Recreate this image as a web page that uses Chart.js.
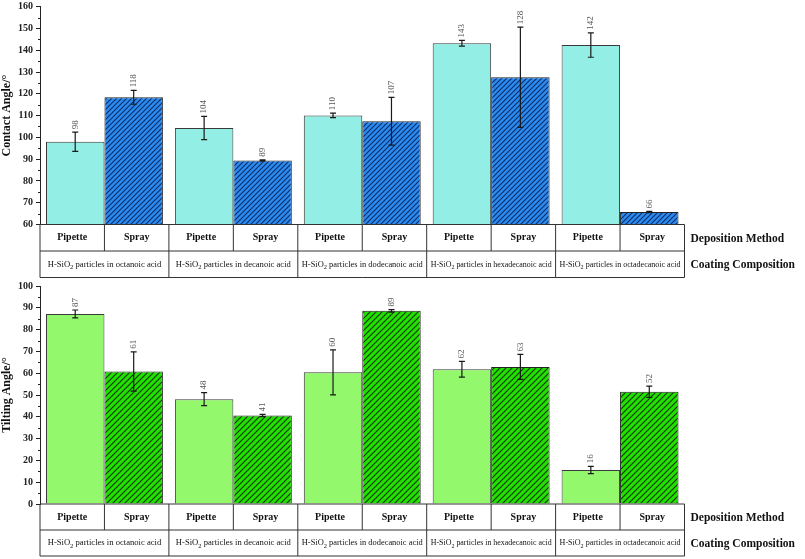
<!DOCTYPE html>
<html>
<head>
<meta charset="utf-8">
<script src="https://cdn.jsdelivr.net/npm/chart.js@4"></script>
<style>
  body { margin: 0; background: #fff; }
  .box { position: absolute; left: 0; width: 805px; }
  #top { top: 0; height: 280px; }
  #bottom { top: 280px; height: 279px; }
</style>
</head>
<body>
<div class="box" id="top"><canvas id="contact"></canvas></div>
<div class="box" id="bottom"><canvas id="tilt"></canvas></div>
<script>
const groups = [
  'H-SiO₂ particles in octanoic acid',
  'H-SiO₂ particles in decanoic acid',
  'H-SiO₂ particles in dodecanoic acid',
  'H-SiO₂ particles in hexadecanoic acid',
  'H-SiO₂ particles in octadecanoic acid'
];
const methods = ['Pipette', 'Spray'];
const rowTitles = ['Deposition Method', 'Coating Composition'];

const contactPipette = [98.0, 104.3, 110.1, 143.2, 142.4];
const contactPipetteErr = [4.4, 5.3, 1.0, 1.3, 5.6];
const contactSpray = [118.4, 89.4, 107.4, 127.6, 65.7];
const contactSprayErr = [3.2, 0.3, 11.0, 23.0, 0.3];
const contactTicks = [60, 160, 10];

const tiltPipette = [87.2, 48.1, 60.4, 61.8, 15.6];
const tiltPipetteErr = [1.8, 3.0, 10.3, 3.6, 1.7];
const tiltSpray = [60.8, 40.6, 88.6, 62.9, 51.5];
const tiltSprayErr = [9.0, 0.5, 0.6, 5.7, 2.6];
const tiltTicks = [0, 100, 10];

const serif = "'Liberation Serif', 'Times New Roman', serif";

function hatch(bg, line, gap) {
  const c = document.createElement('canvas');
  c.width = c.height = gap;
  const g = c.getContext('2d');
  g.fillStyle = bg;
  g.fillRect(0, 0, gap, gap);
  g.strokeStyle = line;
  g.lineWidth = 1.1;
  g.beginPath();
  g.moveTo(-1, gap + 1); g.lineTo(gap + 1, -1);
  g.moveTo(-1, 1); g.lineTo(1, -1);
  g.moveTo(gap - 1, gap + 1); g.lineTo(gap + 1, gap - 1);
  g.stroke();
  return g.createPattern(c, 'repeat');
}

// draws text with "₂" as a lowered digit, centred on x, squeezed to maxW if needed
function drawSubText(ctx, text, x, y, size, maxW) {
  const parts = text.split('₂');
  const big = size + 'px ' + serif, small = (size - 2) + 'px ' + serif;
  ctx.font = big;
  const w0 = ctx.measureText(parts[0]).width;
  const w2 = parts.length > 1 ? ctx.measureText(parts[1]).width : 0;
  ctx.font = small;
  const w1 = parts.length > 1 ? ctx.measureText('2').width : 0;
  const total = w0 + w1 + w2;
  const k = Math.min(1, maxW / total);
  ctx.save();
  ctx.translate(x, y);
  ctx.scale(k, 1);
  let cx = -total / 2;
  ctx.textAlign = 'left';
  ctx.font = big;
  ctx.fillText(parts[0], cx, 0);
  if (parts.length > 1) {
    cx += w0;
    ctx.font = small;
    ctx.fillText('2', cx, 3);
    cx += w1;
    ctx.font = big;
    ctx.fillText(parts[1], cx, 0);
  }
  ctx.restore();
}

const errorBars = {
  id: 'errorBars',
  afterDatasetsDraw(chart) {
    const ctx = chart.ctx, ys = chart.scales.y;
    ctx.save();
    chart.data.datasets.forEach((ds, di) => {
      chart.getDatasetMeta(di).data.forEach((bar, i) => {
        const v = ds.data[i], e = ds.errors[i];
        const hi = ys.getPixelForValue(v + e), lo = ys.getPixelForValue(v - e);
        ctx.strokeStyle = '#1a1a1a';
        ctx.lineWidth = 1.2;
        ctx.beginPath();
        ctx.moveTo(bar.x, hi); ctx.lineTo(bar.x, lo);
        ctx.moveTo(bar.x - 3, hi); ctx.lineTo(bar.x + 3, hi);
        ctx.moveTo(bar.x - 3, lo); ctx.lineTo(bar.x + 3, lo);
        ctx.stroke();
        ctx.save();
        ctx.translate(bar.x, hi - 3);
        ctx.rotate(-Math.PI / 2);
        ctx.fillStyle = '#555';
        ctx.font = '9px ' + serif;
        ctx.textAlign = 'left';
        ctx.textBaseline = 'middle';
        ctx.fillText(String(Math.round(v)), 0, 0);
        ctx.restore();
      });
    });
    ctx.restore();
  }
};

const table = {
  id: 'table',
  afterDraw(chart, args, opts) {
    const ctx = chart.ctx, ca = chart.chartArea, xs = chart.scales.x, ys = chart.scales.y;
    const n = groups.length, h = opts.rowHeight;
    const top = ca.bottom, mid = top + h, bot = top + 2 * h;
    ctx.save();
    // minor ticks
    ctx.strokeStyle = '#222';
    ctx.lineWidth = 1;
    ctx.beginPath();
    for (let v = ys.min + ys.options.ticks.stepSize / 2; v < ys.max; v += ys.options.ticks.stepSize) {
      const y = Math.round(ys.getPixelForValue(v)) + 0.5;
      ctx.moveTo(ca.left - 2, y); ctx.lineTo(ca.left, y);
    }
    ctx.stroke();
    // grid of the table
    ctx.strokeStyle = '#333';
    ctx.beginPath();
    [top, mid, bot].forEach(y => { ctx.moveTo(ca.left, y); ctx.lineTo(ca.right, y); });
    for (let i = 0; i <= n; i++) {
      const x = xs.getPixelForValue(i - 0.5);
      ctx.moveTo(x, top); ctx.lineTo(x, bot);
    }
    for (let i = 0; i < n; i++) {
      const x = xs.getPixelForValue(i);
      ctx.moveTo(x, top); ctx.lineTo(x, mid);
    }
    ctx.stroke();
    // cell texts
    ctx.fillStyle = '#111';
    ctx.textBaseline = 'middle';
    for (let i = 0; i < n; i++) {
      const l = xs.getPixelForValue(i - 0.5), c = xs.getPixelForValue(i), r = xs.getPixelForValue(i + 0.5);
      ctx.font = 'bold 10px ' + serif;
      ctx.textAlign = 'center';
      ctx.fillText(methods[0], (l + c) / 2, top + h / 2);
      ctx.fillText(methods[1], (c + r) / 2, top + h / 2);
      drawSubText(ctx, groups[i], c, mid + h / 2, 8.6, r - l - 8);
    }
    ctx.font = 'bold 11.5px ' + serif;
    ctx.textAlign = 'left';
    ctx.fillText(rowTitles[0], ca.right + 6, top + h / 2 + 1);
    ctx.fillText(rowTitles[1], ca.right + 6, mid + h / 2 + 1);
    ctx.restore();
  }
};

function makeChart(id, title, pipe, pipeErr, spray, sprayErr, ticks, colors, pad, rowHeight) {
  return new Chart(document.getElementById(id), {
    type: 'bar',
    data: {
      labels: groups,
      datasets: [
        { label: methods[0], data: pipe, errors: pipeErr, backgroundColor: colors[0],
          borderColor: '#3a3a3a', borderWidth: 1 },
        { label: methods[1], data: spray, errors: sprayErr, backgroundColor: colors[1],
          borderColor: '#222', borderWidth: 1 }
      ]
    },
    options: {
      responsive: true,
      maintainAspectRatio: false,
      animation: false,
      layout: { padding: pad },
      datasets: { bar: { categoryPercentage: 0.907, barPercentage: 1 } },
      plugins: { legend: { display: false }, tooltip: { enabled: false }, table: { rowHeight } },
      scales: {
        x: { display: false },
        y: {
          min: ticks[0], max: ticks[1],
          afterFit(s) { s.width = 40; },
          ticks: { stepSize: ticks[2], padding: 3, color: '#222',
                   font: { family: serif, size: 10, weight: 'bold', lineHeight: 0.6 } },
          grid: { drawOnChartArea: false, drawTicks: true, tickLength: 4, color: '#222' },
          border: { display: true, color: '#222', width: 1 },
          title: { display: true, text: title, color: '#111', padding: 0,
                   font: { family: serif, size: 12, weight: 'bold' } }
        }
      }
    },
    plugins: [errorBars, table]
  });
}

makeChart('contact', 'Contact Angle/°', contactPipette, contactPipetteErr, contactSpray, contactSprayErr,
  contactTicks, ['#93efe6', hatch('#2a8cf0', '#0b2a66', 5)],
  { top: 6.7, right: 120.5, bottom: 55.5, left: 0 }, 26.5);

makeChart('tilt', 'Tilting Angle/°', tiltPipette, tiltPipetteErr, tiltSpray, tiltSprayErr,
  tiltTicks, ['#93f86c', hatch('#22e000', '#0d3300', 6)],
  { top: 5.7, right: 120.5, bottom: 55, left: 0 }, 26);
</script>
</body>
</html>
